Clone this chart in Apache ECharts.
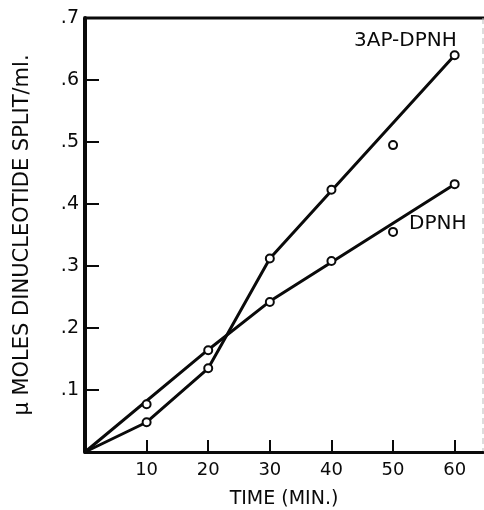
<!DOCTYPE html>
<html>
<head>
<meta charset="utf-8">
<script src="https://cdn.jsdelivr.net/npm/echarts@6/dist/echarts.min.js"></script>
<style>
  html, body { margin: 0; padding: 0; background: #fff; }
  #chart { width: 484px; height: 510px; }
</style>
</head>
<body>
<div id="chart"></div>
<script>
// measured points (time in min, umoles split / ml)
var times = [10, 20, 30, 40, 50, 60];
var apDpnh = [0.048, 0.135, 0.312, 0.423, 0.495, 0.640];
var dpnh = [0.077, 0.164, 0.242, 0.308, 0.355, 0.432];

// hand-drawn curves through the points
var apCurve = [[0, 0], [10, 0.048], [20, 0.135], [30, 0.312], [60, 0.640]];
var dpnhCurve = [[0, 0], [20, 0.165], [30, 0.243], [60, 0.432]];

var xTicks = [10, 20, 30, 40, 50, 60];
var yTicks = [0.1, 0.2, 0.3, 0.4, 0.5, 0.6, 0.7];

var font = 'DejaVu Sans';
var ink = '#0a0a0a';
var chart = echarts.init(document.getElementById('chart'));

function pairs(xs, ys) {
  return xs.map(function (x, i) { return [x, ys[i]]; });
}

var option = {
  animation: false,
  backgroundColor: '#fff',
  grid: { left: 85, right: 1, top: 18, bottom: 58, outerBoundsMode: 'none', containLabel: false },
  xAxis: {
    type: 'value',
    min: 0,
    max: 64.6,
    interval: 10,
    name: 'TIME (MIN.)',
    nameLocation: 'middle',
    nameGap: 38,
    nameTextStyle: { color: ink, fontFamily: font, fontSize: 19 },
    axisLine: { show: true, onZero: false, lineStyle: { color: ink, width: 3 } },
    axisTick: { show: true, inside: true, length: 12, lineStyle: { color: ink, width: 2 } },
    axisLabel: {
      color: ink, fontFamily: font, fontSize: 18, margin: 9,
      showMaxLabel: false,
      formatter: function (v) { return xTicks.indexOf(v) < 0 ? '' : String(v); }
    },
    splitLine: { show: false }
  },
  yAxis: {
    type: 'value',
    min: 0,
    max: 0.7,
    interval: 0.1,
    name: 'μ MOLES DINUCLEOTIDE SPLIT/ml.',
    nameLocation: 'middle',
    nameGap: 52,
    nameRotate: 90,
    nameTextStyle: { color: ink, fontFamily: font, fontSize: 21 },
    axisLine: { show: true, lineStyle: { color: ink, width: 4 } },
    axisTick: { show: true, inside: true, length: 14, lineStyle: { color: ink, width: 2 } },
    axisLabel: {
      color: ink, fontFamily: font, fontSize: 19, margin: 6,
      formatter: function (v) {
        var r = Math.round(v * 10) / 10;
        if (yTicks.indexOf(r) < 0) return '';
        return '.' + Math.round(r * 10);
      }
    },
    splitLine: { show: false }
  },
  graphic: [
    { type: 'line', shape: { x1: 85, y1: 18, x2: 484, y2: 18 }, style: { stroke: ink, lineWidth: 3 } },
    { type: 'line', shape: { x1: 483, y1: 18, x2: 483, y2: 452 }, style: { stroke: '#bbb', lineWidth: 1, lineDash: [6, 4] } },
    { type: 'text', left: 354, top: 31, style: { text: '3AP-DPNH', fill: ink, font: '20px "DejaVu Sans"' } },
    { type: 'text', left: 409, top: 214, style: { text: 'DPNH', fill: ink, font: '20px "DejaVu Sans"' } }
  ],
  series: [
    {
      name: '3AP-DPNH curve',
      type: 'line',
      data: apCurve,
      showSymbol: false,
      lineStyle: { color: ink, width: 3 },
      z: 2
    },
    {
      name: 'DPNH curve',
      type: 'line',
      data: dpnhCurve,
      showSymbol: false,
      lineStyle: { color: ink, width: 3 },
      z: 2
    },
    {
      name: '3AP-DPNH',
      type: 'scatter',
      data: pairs(times, apDpnh),
      symbol: 'circle',
      symbolSize: 8,
      itemStyle: { color: '#fff', borderColor: ink, borderWidth: 2, opacity: 1 },
      z: 5
    },
    {
      name: 'DPNH',
      type: 'scatter',
      data: pairs(times, dpnh),
      symbol: 'circle',
      symbolSize: 8,
      itemStyle: { color: '#fff', borderColor: ink, borderWidth: 2, opacity: 1 },
      z: 5
    }
  ]
};

chart.setOption(option);
</script>
</body>
</html>
